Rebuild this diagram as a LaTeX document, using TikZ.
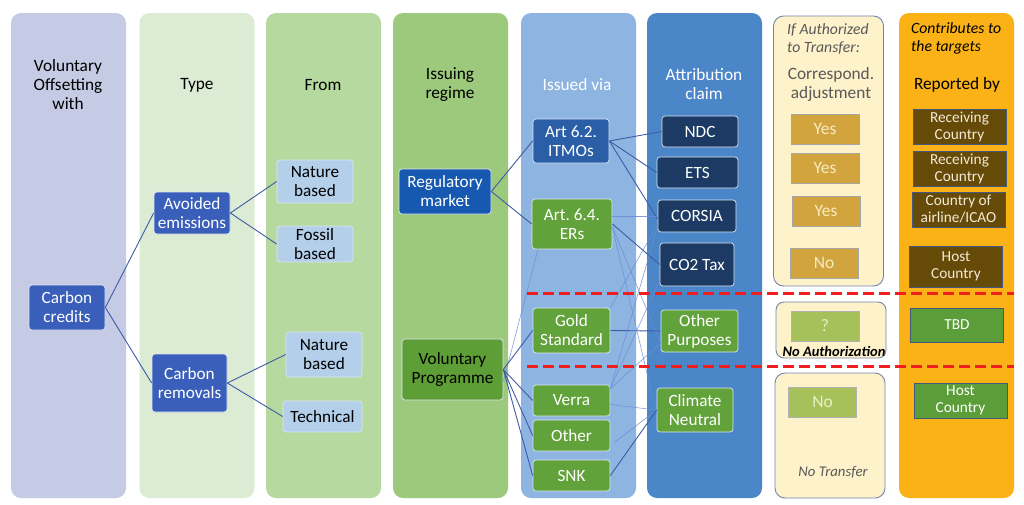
\documentclass[tikz,border=0pt]{standalone}
\usepackage{fontspec}
\setmainfont{Carlito}
\newcommand{\fsz}[2]{\fontsize{#1}{#2}\selectfont}
\definecolor{c1}{HTML}{C5CBE4}
\definecolor{c2}{HTML}{DCEBD3}
\definecolor{c3}{HTML}{B6D9A0}
\definecolor{c4}{HTML}{9DC97C}
\definecolor{c5}{HTML}{8EB4E1}
\definecolor{c6}{HTML}{4A86C8}
\definecolor{cream}{HTML}{FEF2CB}
\definecolor{creamline}{HTML}{6F84AE}
\definecolor{orng}{HTML}{FBB216}
\definecolor{dblue}{HTML}{3A5FBA}
\definecolor{lblue}{HTML}{B3CFEA}
\definecolor{regblue}{HTML}{1759B0}
\definecolor{itmo}{HTML}{2A5FA7}
\definecolor{vgreen}{HTML}{5E9E37}
\definecolor{gnode}{HTML}{62A23B}
\definecolor{navy}{HTML}{1C3A63}
\definecolor{gold}{HTML}{D2A43E}
\definecolor{goldtext}{HTML}{F7ECC2}
\definecolor{olive}{HTML}{A6C05A}
\definecolor{olivetext}{HTML}{EAF0C8}
\definecolor{brown}{HTML}{664A07}
\definecolor{browntext}{HTML}{F3EAD6}
\definecolor{tgreen}{HTML}{5B9E39}
\definecolor{boxline}{HTML}{44587E}
\definecolor{conn}{HTML}{3D5CA6}
\definecolor{connf}{HTML}{6A8DD4}
\definecolor{dashred}{HTML}{F01E1E}
\definecolor{graytext}{HTML}{595959}
\definecolor{nodeline}{HTML}{DCE6F2}
\tikzset{
  col/.style={rounded corners=10pt, inner sep=0pt, minimum width=115pt, minimum height=485pt},
  hdr/.style={inner sep=0pt, align=center, font=\fsz{17.3}{19}},
  nbox/.style={rounded corners=3pt, draw=nodeline, line width=0.7pt, align=center, inner sep=0pt, font=\fsz{17.2}{19}},
  dbl/.style={nbox, fill=dblue, text=white},
  lbl/.style={nbox, fill=lblue, text=black},
  grn/.style={nbox, fill=gnode, text=white},
  nav/.style={nbox, fill=navy, text=white},
  sqbox/.style={align=center, inner sep=0pt, line width=0.7pt},
  yesbox/.style={sqbox, fill=gold, draw=gray!70, text=goldtext, font=\fsz{17.5}{19}, minimum width=68pt, minimum height=30pt},
  olbox/.style={sqbox, fill=olive, draw=gray!60, text=olivetext, font=\fsz{17.5}{19}, minimum width=68pt, minimum height=30pt},
  brbox/.style={sqbox, fill=brown, draw=boxline, text=browntext, font=\fsz{15.3}{17}, minimum width=93pt},
  tgbox/.style={sqbox, fill=tgreen, draw=boxline, text=white, font=\fsz{15.3}{17}, minimum width=93pt},
  lk/.style={conn, line width=0.9pt},
  lkf/.style={connf, line width=0.6pt, opacity=0.85},
  reddash/.style={dashred, line width=3pt, dash pattern=on 10.5pt off 5.5pt},
}
\begin{document}
\frenchspacing
\begin{tikzpicture}[x=1pt, y=-1pt]
\useasboundingbox (0,0) rectangle (1024,504);
% columns
\node[col, fill=c1] (col1) at (68.5,255.5) {};
\node[col, fill=c2] (col2) at (197,255.5) {};
\node[col, fill=c3] (col3) at (323.5,255.5) {};
\node[col, fill=c4] (col4) at (450.5,255.5) {};
\node[col, fill=c5] (col5) at (578.5,255.5) {};
\node[col, fill=c6] (col6) at (704.5,255.5) {};
\node[col, fill=orng] (col8) at (956.5,255.5) {};
\node[rounded corners=10pt, fill=cream, draw=creamline, line width=0.9pt, minimum width=110pt, minimum height=270pt, inner sep=0pt] (ca1) at (828.5,151) {};
\node[rounded corners=8pt, fill=cream, draw=creamline, line width=0.9pt, minimum width=110pt, minimum height=56pt, inner sep=0pt] (ca2) at (831,330) {};
\node[rounded corners=10pt, fill=cream, draw=creamline, line width=0.9pt, minimum width=110pt, minimum height=125pt, inner sep=0pt] (ca3) at (830,435.5) {};
% headers
\node[hdr] (h1) at (68,85) {Voluntary\\Offsetting\\with};
\node[hdr] (h2) at (197,85) {Type};
\node[hdr] (h3) at (323,85) {From};
\node[hdr] (h4) at (450,84.5) {Issuing\\regime};
\node[hdr, text=white] (h5) at (577,85) {Issued via};
\node[hdr, text=white] (h6) at (704,84.5) {Attribution\\claim};
\node[inner sep=0pt, anchor=west, align=left, text=graytext, font=\fsz{15.7}{18}\itshape] (h7a) at (787,39) {If Authorized\\to Transfer:};
\node[hdr, text=graytext, font=\fsz{17.3}{19}] (h7b) at (831,84.5) {Correspond.\\adjustment};
\node[inner sep=0pt, anchor=west, align=left, font=\fsz{15.7}{18}\itshape] (h8a) at (911,38) {Contributes to\\the targets};
\node[hdr, font=\fsz{17.3}{19}] (h8b) at (957,85) {Reported by};
% column 1-3 nodes
\node[dbl, minimum width=76pt, minimum height=45pt] (cc) at (67,307.5) {Carbon\\credits};
\node[dbl, minimum width=76pt, minimum height=42pt] (ae) at (192,213) {Avoided\\emissions};
\node[dbl, minimum width=75pt, minimum height=58pt] (cr) at (189.5,383) {Carbon\\removals};
\node[lbl, minimum width=76pt, minimum height=43pt] (nb1) at (315,181.5) {Nature\\based};
\node[lbl, minimum width=76pt, minimum height=36pt] (fb) at (315,244) {Fossil\\based};
\node[lbl, minimum width=76pt, minimum height=45pt] (nb2) at (324,354.5) {Nature\\based};
\node[lbl, minimum width=79pt, minimum height=31pt] (tec) at (322.5,416.5) {Technical};
% issuing regime
\node[nbox, fill=regblue, text=white, minimum width=92pt, minimum height=45pt] (reg) at (445,191.5) {Regulatory\\market};
\node[nbox, fill=vgreen, text=black, minimum width=101pt, minimum height=61pt] (vp) at (452.5,369.5) {Voluntary\\Programme};
% issued via
\node[nbox, fill=itmo, text=white, minimum width=76pt, minimum height=44pt] (a62) at (571,141) {Art 6.2.\\ITMOs};
\node[grn, minimum width=80pt, minimum height=50pt] (a64) at (572,224) {Art. 6.4.\\ERs};
\node[grn, minimum width=77pt, minimum height=45pt] (gs) at (571.5,330.5) {Gold\\Standard};
\node[grn, minimum width=77pt, minimum height=31pt] (ver) at (571.5,400.5) {Verra};
\node[grn, minimum width=77pt, minimum height=31pt] (oth) at (571.5,435.5) {Other};
\node[grn, minimum width=77pt, minimum height=31pt] (snk) at (571.5,475.5) {SNK};
% attribution claim
\node[nav, minimum width=76pt, minimum height=31pt] (ndc) at (700,131.5) {NDC};
\node[nav, minimum width=81pt, minimum height=31pt] (ets) at (697.5,172.5) {ETS};
\node[nav, minimum width=78pt, minimum height=32pt] (cor) at (697,216) {CORSIA};
\node[nav, minimum width=74pt, minimum height=43pt] (tax) at (697,264.5) {CO2 Tax};
\node[grn, minimum width=77pt, minimum height=42pt] (op) at (699.5,331) {Other\\Purposes};
\node[grn, minimum width=76pt, minimum height=44pt] (cn) at (695,410) {Climate\\Neutral};
% corresponding adjustment
\node[yesbox] (y1) at (825,129) {Yes};
\node[yesbox] (y2) at (825,168) {Yes};
\node[yesbox] (y3) at (826,211) {Yes};
\node[yesbox] (n1) at (824,263) {No};
\node[olbox] (q) at (825,326) {?};
\node[olbox] (n2) at (822.5,402) {No};
\node[inner sep=0pt, font=\fsz{14.5}{17}\bfseries\itshape] (noauth) at (834,351) {No Authorization};
\node[inner sep=0pt, text=graytext, font=\fsz{14.8}{17}\itshape] (notr) at (833,472) {No Transfer};
% reported by
\node[brbox, minimum height=35pt] (r1) at (959.5,126.5) {Receiving\\Country};
\node[brbox, minimum height=35pt] (r2) at (959.5,168.5) {Receiving\\Country};
\node[brbox, minimum height=35pt] (r3) at (958.5,209.5) {Country of\\airline/ICAO};
\node[brbox, minimum height=41pt] (r4) at (956,266.5) {Host\\Country};
\node[tgbox, minimum height=34pt] (r5) at (957,325) {TBD};
\node[tgbox, minimum height=35pt] (r6) at (960.5,400.5) {Host\\Country};
% connectors
\draw[lk] (cc.east) -- (ae.west);
\draw[lk] (cc.east) -- (cr.west);
\draw[lk] (ae.east) -- (nb1.west);
\draw[lk] (ae.east) -- (fb.west);
\draw[lk] (cr.east) -- (nb2.west);
\draw[lk] (cr.east) -- (tec.west);
\draw[lk] (reg.east) -- (a62.west);
\draw[lk] (reg.east) -- (a64.west);
\draw[lkf] ([yshift=-12pt]vp.east) -- ([xshift=-34pt]a64.south);
\draw[lk] (vp.east) -- (gs.west);
\draw[lk] (vp.east) -- (ver.west);
\draw[lk] (vp.east) -- (oth.west);
\draw[lk] (vp.east) -- (snk.west);
\draw[lk] (a62.east) -- (ndc.west);
\draw[lk] (a62.east) -- (ets.west);
\draw[lk] (a62.east) -- ([yshift=-3pt]cor.west);
\draw[lkf] (a64.east |- cor.west) -- (cor.west);
\draw[lk] (a64.east) -- (tax.west);
\draw[lkf] ([yshift=-3pt]a64.east) -- ([yshift=-12pt]op.west);
\draw[lkf] ([yshift=-3pt]a64.east) -- ([yshift=-4pt]cn.west);
\draw[lkf] (gs.north east) -- ([yshift=8pt]cor.south west);
\draw[lk] (gs.east) -- (op.west);
\draw[lkf] ([yshift=-4pt]ver.north east) -- ([yshift=6pt]cor.south west);
\draw[lkf] ([yshift=-4pt]ver.north east) -- ([yshift=6pt]tax.south west);
\draw[lkf] ([yshift=-4pt]ver.north east) -- ([yshift=-12pt]op.west);
\draw[lkf] ([yshift=-4pt]ver.east) -- (cn.west);
\draw[lkf] ([xshift=4pt,yshift=-7pt]oth.east) -- (cn.west);
\draw[lk] (snk.east) -- (cn.west);
% red dashed separators
\coordinate (d1a) at (527,293);
\coordinate (d1b) at (1014,293);
\coordinate (d2a) at (527,366);
\coordinate (d2b) at (1014,366);
\draw[reddash] (d1a) -- (d1b);
\draw[reddash] (d2a) -- (d2b);
\end{tikzpicture}
\end{document}
